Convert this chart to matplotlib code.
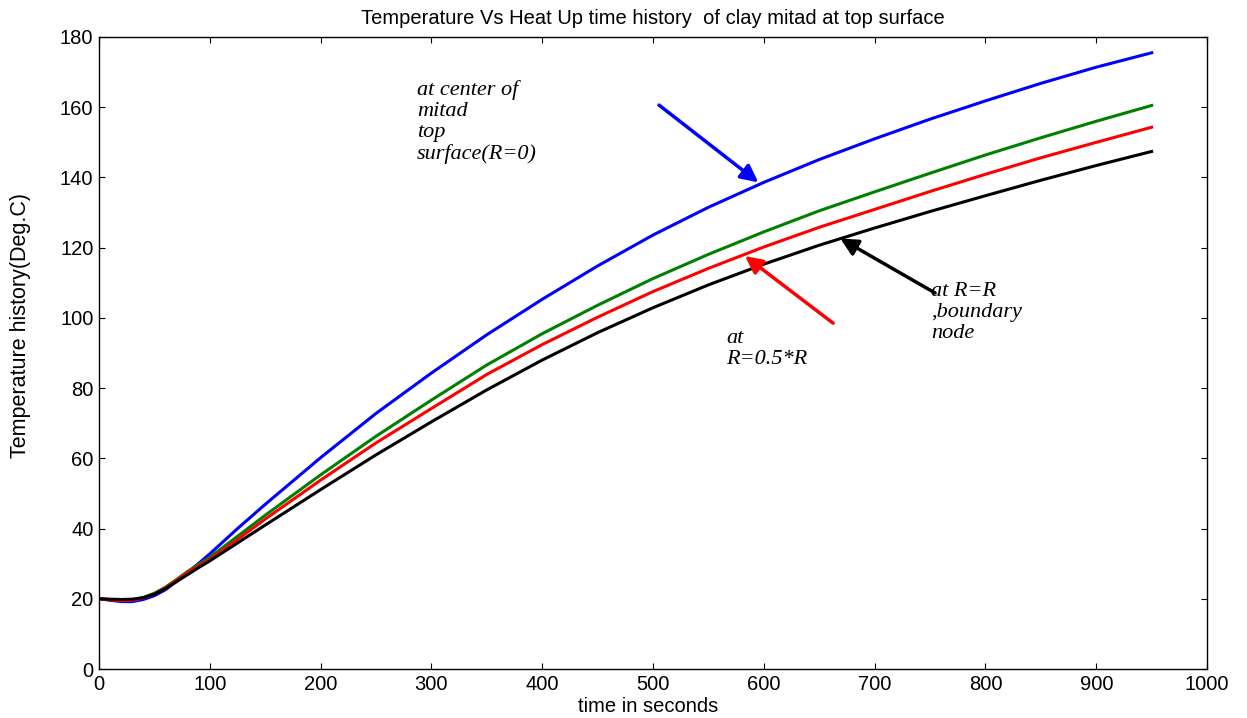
import matplotlib
matplotlib.use("Agg")
import matplotlib.pyplot as plt


TIME_S = [0, 10, 20, 30, 40, 50, 60, 70, 80, 90, 100, 125, 150, 200, 250, 300,
          350, 400, 450, 500, 550, 600, 650, 700, 750, 800, 850, 900, 950]

TEMP_CENTER = [20, 19.6, 19.2, 19.2, 19.8, 20.9, 22.6, 25, 27.5, 30.1, 32.8, 40, 46.9, 60.2,
               72.8, 84.3, 95.2, 105.3, 114.8, 123.6, 131.5, 138.6, 145.1, 151, 156.6, 161.8, 166.8, 171.4, 175.5]
TEMP_MID_GREEN = [20, 19.8, 19.6, 19.7, 20.4, 21.6, 23.3, 25.5, 27.8, 29.8, 31.8, 37.8, 43.8, 55.3,
                  66.3, 76.6, 86.6, 95.5, 103.6, 111.2, 118.1, 124.5, 130.5, 135.9, 141.2, 146.4, 151.3, 156, 160.5]
TEMP_HALF_R = [20, 19.7, 19.5, 19.6, 20.2, 21.4, 23.1, 25.3, 27.5, 29.4, 31.2, 36.9, 42.7, 53.8,
               64.4, 74.2, 83.9, 92.4, 100.2, 107.5, 114.1, 120.2, 125.8, 130.9, 136, 140.9, 145.6, 150, 154.3]
TEMP_BOUNDARY = [20, 19.9, 19.8, 19.9, 20.3, 21.3, 22.9, 24.9, 26.9, 28.9, 30.8, 35.9, 41, 51.1,
                 61, 70.4, 79.5, 88, 95.8, 102.9, 109.4, 115.3, 120.7, 125.6, 130.3, 134.8, 139.2, 143.4, 147.4]

X_TICKS = list(range(0, 1001, 100))
Y_TICKS = list(range(0, 181, 20))

SANS = ["Liberation Sans", "DejaVu Sans"]
SERIF = ["Liberation Serif", "DejaVu Serif"]


def arrow(ax, tail, tip, color):
    ax.annotate("", xy=tip, xytext=tail,
                arrowprops=dict(arrowstyle="-|>", color=color, lw=2.5,
                                mutation_scale=26, shrinkA=0, shrinkB=0))


def main() -> None:
    fig = plt.figure(figsize=(12.47, 7.18), dpi=100)
    ax = fig.add_axes([0.0794, 0.0682, 0.8886, 0.8803])

    ax.plot(TIME_S, TEMP_CENTER, color="#0000ff", lw=2.2)
    ax.plot(TIME_S, TEMP_MID_GREEN, color="#008000", lw=2.2)
    ax.plot(TIME_S, TEMP_HALF_R, color="#ff0000", lw=2.2)
    ax.plot(TIME_S, TEMP_BOUNDARY, color="#000000", lw=2.2)

    ax.set_xlim(0, 1000)
    ax.set_ylim(0, 180)
    ax.set_xticks(X_TICKS)
    ax.set_yticks(Y_TICKS)
    ax.tick_params(direction="in", top=True, right=True, length=4, width=0.8,
                   labelsize=14.5, pad=4)
    for label in ax.get_xticklabels() + ax.get_yticklabels():
        label.set_family(SANS)
    for spine in ax.spines.values():
        spine.set_linewidth(1.0)

    ax.set_title("Temperature Vs Heat Up time history  of clay mitad at top surface",
                 family=SANS, fontsize=14.5, pad=9)
    ax.set_xlabel("time in seconds", family=SANS, fontsize=14.5)
    ax.xaxis.set_label_coords(0.496, -0.045)
    ax.set_ylabel("Temperature history(Deg.C)", family=SANS, fontsize=15.5)
    ax.yaxis.set_label_coords(-0.0617, 0.544)

    text_style = dict(family=SERIF, style="italic", fontsize=16, linespacing=1.15, va="top")
    ax.text(287, 167.8, "at center of\nmitad\ntop\nsurface(R=0)", **text_style)
    ax.text(566, 96.8, "at\nR=0.5*R", **text_style)
    ax.text(751, 110.3, "at R=R\n,boundary\nnode", **text_style)

    arrow(ax, (505.4, 160.6), (595, 138.6), "#0000ff")
    arrow(ax, (662.5, 98.5), (583, 117.6), "#ff0000")
    arrow(ax, (754.5, 107.1), (669, 122.6), "#000000")

    fig.savefig("out.png", dpi=100)
    plt.close(fig)


if __name__ == "__main__":
    main()
